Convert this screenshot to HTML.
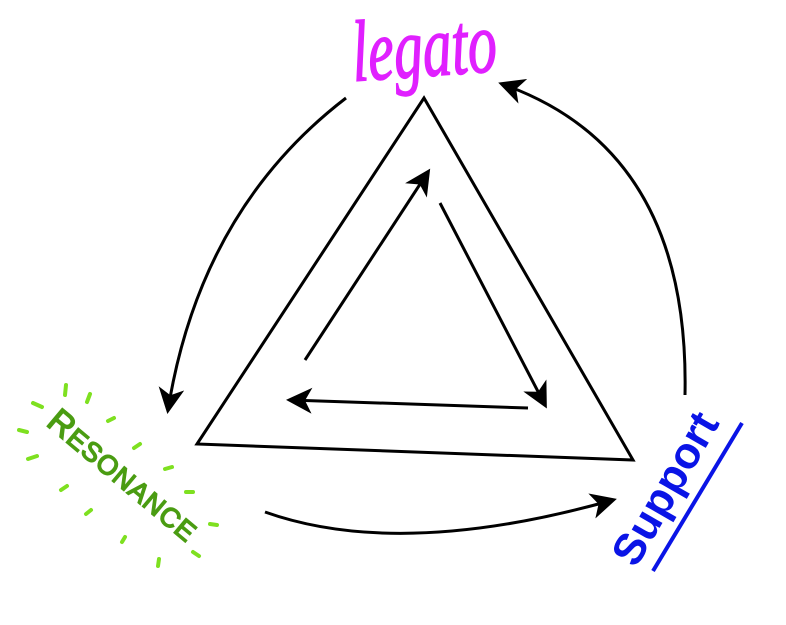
<!DOCTYPE html>
<html><head><style>body{margin:0;background:#fff}</style></head><body>
<svg width="786" height="620" viewBox="0 0 786 620" xmlns="http://www.w3.org/2000/svg">
<defs>
<marker id="b" markerWidth="26" markerHeight="26" refX="22" refY="13" orient="auto" markerUnits="userSpaceOnUse" viewBox="0 0 26 26"><path d="M0,0 L26,13 L0,26 L7,13 Z" fill="#000"/></marker></defs>
<polygon points="424,98 197,444 633,460" fill="none" stroke="#000" stroke-width="3" stroke-linejoin="miter"/>
<g stroke="#000" stroke-width="3" fill="none">
<line x1="305" y1="360" x2="428" y2="172" marker-end="url(#b)"/>
<line x1="440" y1="203" x2="545" y2="405" marker-end="url(#b)"/>
<line x1="528" y1="408" x2="290" y2="400" marker-end="url(#b)"/>
<path d="M346,98 Q200,210 168,410" marker-end="url(#b)"/>
<path d="M685,395 Q690,150 502,84" marker-end="url(#b)"/>
<path d="M265,512 Q400,560 613,500" marker-end="url(#b)"/>
</g>
<text transform="translate(426,76) rotate(-4) scale(1,1.5)" text-anchor="middle" font-family="Liberation Serif, serif" font-style="italic" font-size="58" fill="#e020ff" stroke="#e020ff" stroke-width="1">legato</text>
<text transform="translate(116,484) rotate(40)" text-anchor="middle" font-family="Liberation Sans, sans-serif" font-size="34" fill="#4a9c12" stroke="#4a9c12" stroke-width="1.5" letter-spacing="1">R<tspan font-size="27">ESONANCE</tspan></text>
<g stroke="#7ee020" stroke-width="4" stroke-linecap="round">
<line x1="66" y1="385" x2="65" y2="395"/><line x1="33" y1="403" x2="42" y2="407"/><line x1="87" y1="402" x2="90" y2="394"/>
<line x1="19" y1="430" x2="27" y2="432"/><line x1="108" y1="421" x2="114" y2="418"/><line x1="28" y1="459" x2="37" y2="456"/>
<line x1="134" y1="448" x2="140" y2="444"/><line x1="165" y1="469" x2="172" y2="467"/><line x1="61" y1="490" x2="67" y2="486"/>
<line x1="186" y1="492" x2="193" y2="492"/><line x1="86" y1="514" x2="91" y2="510"/><line x1="210" y1="524" x2="217" y2="525"/>
<line x1="122" y1="542" x2="125" y2="537"/><line x1="193" y1="552" x2="199" y2="556"/><line x1="158" y1="566" x2="159" y2="559"/>
</g>
<text transform="translate(678,496) rotate(-60)" text-anchor="middle" font-family="Liberation Sans, sans-serif" font-weight="bold" font-size="44" fill="#0a14e6">Support</text>
<line x1="653" y1="571" x2="742" y2="423" stroke="#0a14e6" stroke-width="4"/>
</svg>
</body></html>
